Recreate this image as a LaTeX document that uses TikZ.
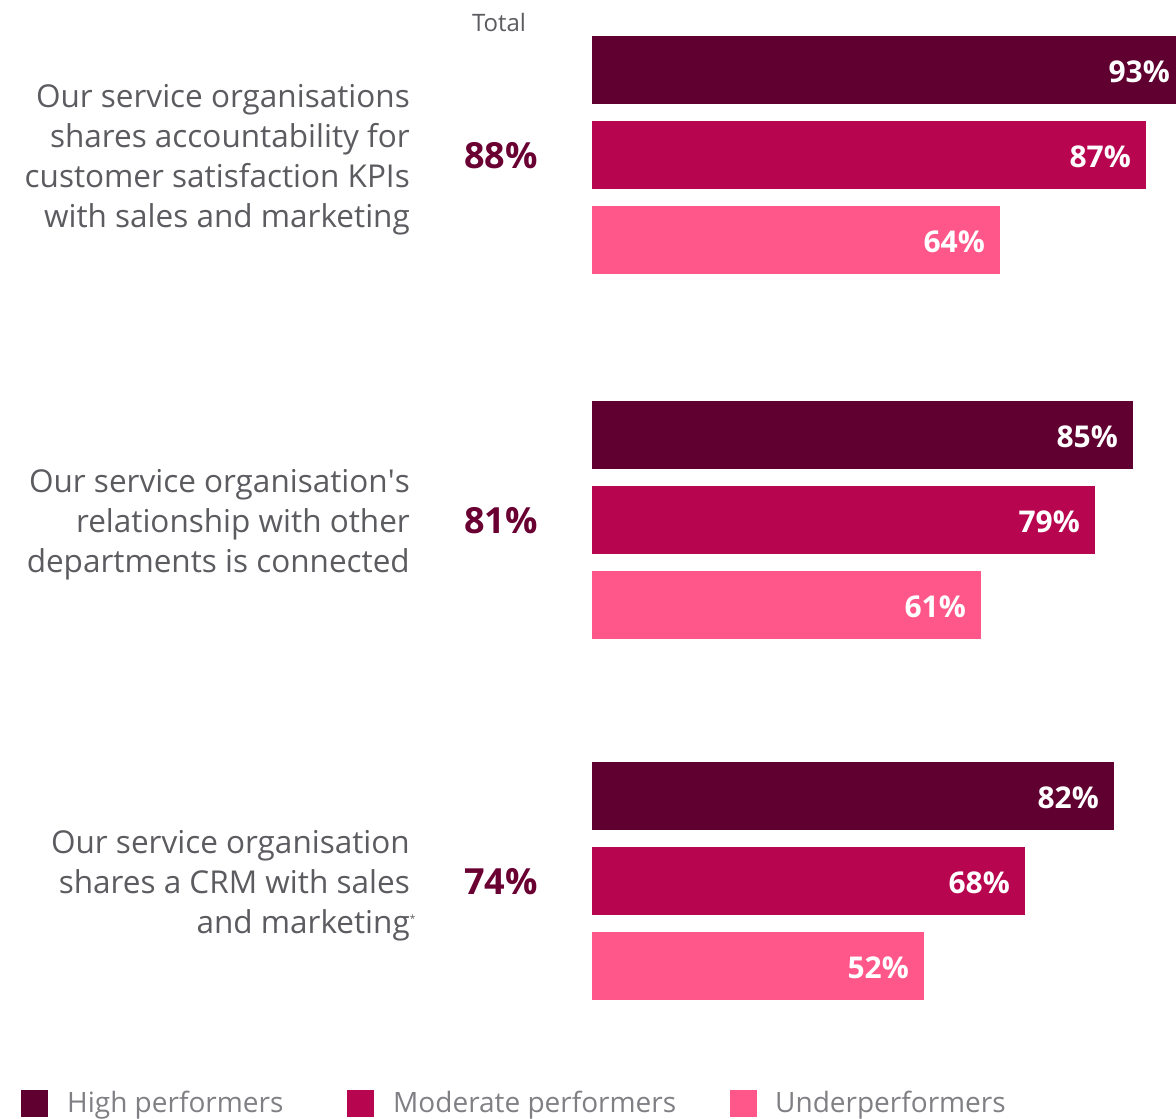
\documentclass[tikz,border=0pt]{standalone}
\usepackage{fontspec}
\setmainfont{Open Sans}
\definecolor{hp}{HTML}{600030}
\definecolor{mp}{HTML}{B7064F}
\definecolor{upf}{HTML}{FF5789}
\definecolor{qtext}{HTML}{5B5B60}
\definecolor{ltext}{HTML}{7F7F84}
\definecolor{tot}{HTML}{6A0032}
\begin{document}
\begin{tikzpicture}[x=1bp,y=-1bp,
  barbox/.style={inner sep=0pt, outer sep=0pt, minimum height=68bp, anchor=north west},
  val/.style={anchor=east, text=white, font=\fontsize{30bp}{32bp}\selectfont\bfseries, inner sep=0pt, yshift=-2bp},
  question/.style={anchor=east, align=right, text=qtext, font=\fontsize{31.5bp}{40bp}\selectfont, inner sep=0pt},
  total/.style={text=tot, font=\fontsize{36bp}{40bp}\selectfont\bfseries, inner sep=0pt},
  legsq/.style={inner sep=0pt, minimum size=27bp, anchor=north west},
  legtxt/.style={anchor=west, text=ltext, font=\fontsize{28bp}{30bp}\selectfont, inner sep=0pt}]
\useasboundingbox (0,0) rectangle (1176,1119);

\node[text=qtext, font=\fontsize{24bp}{26bp}\selectfont, inner sep=0pt] (totlab) at (499,22) {Total};

% Group 1
\node[question] (q1) at (410,160) {Our service organisations\\shares accountability for\\customer satisfaction KPIs\\with sales and marketing};
\node[total] (t1) at (501,156) {88\%};
\node[barbox, fill=hp, minimum width=584bp] (b11) at (592,36) {};
\node[barbox, fill=mp, minimum width=554bp] (b12) at (592,121) {};
\node[barbox, fill=upf, minimum width=408bp] (b13) at (592,206) {};
\node[val] (v11) at (1170,70) {93\%};
\node[val] (v12) at ([xshift=-15bp]b12.east) {87\%};
\node[val] (v13) at ([xshift=-15bp]b13.east) {64\%};

% Group 2
\node[question] (q2) at (410,525) {Our service organisation\textquotesingle s\\relationship with other\\departments is connected};
\node[total] (t2) at (501,521) {81\%};
\node[barbox, fill=hp, minimum width=541bp] (b21) at (592,401) {};
\node[barbox, fill=mp, minimum width=503bp] (b22) at (592,486) {};
\node[barbox, fill=upf, minimum width=389bp] (b23) at (592,571) {};
\node[val] (v21) at ([xshift=-15bp]b21.east) {85\%};
\node[val] (v22) at ([xshift=-15bp]b22.east) {79\%};
\node[val] (v23) at ([xshift=-15bp]b23.east) {61\%};

% Group 3
\node[question] (q3) at (410,886) {Our service organisation\\shares a CRM with sales\\and marketing\rlap{\raisebox{11bp}{\fontsize{10bp}{10bp}\selectfont *}}};
\node[total] (t3) at (501,882) {74\%};
\node[barbox, fill=hp, minimum width=522bp] (b31) at (592,762) {};
\node[barbox, fill=mp, minimum width=433bp] (b32) at (592,847) {};
\node[barbox, fill=upf, minimum width=332bp] (b33) at (592,932) {};
\node[val] (v31) at ([xshift=-15bp]b31.east) {82\%};
\node[val] (v32) at ([xshift=-15bp]b32.east) {68\%};
\node[val] (v33) at ([xshift=-15bp]b33.east) {52\%};

% Legend
\node[legsq, fill=hp] (l1) at (21,1090) {};
\node[legtxt] (lt1) at (67,1105) {High performers};
\node[legsq, fill=mp] (l2) at (347,1090) {};
\node[legtxt] (lt2) at (393,1105) {Moderate performers};
\node[legsq, fill=upf] (l3) at (730,1090) {};
\node[legtxt] (lt3) at (775,1105) {Underperformers};
\end{tikzpicture}
\end{document}
